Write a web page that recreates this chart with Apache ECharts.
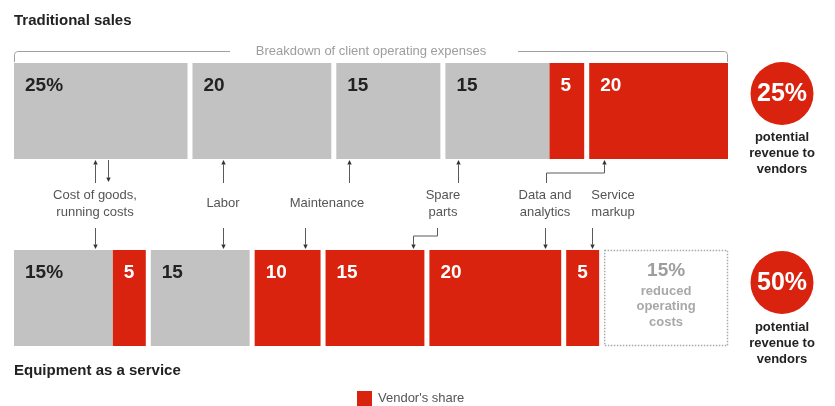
<!DOCTYPE html>
<html>
<head>
<meta charset="utf-8">
<script src="https://cdn.jsdelivr.net/npm/echarts@6/dist/echarts.min.js"></script>
<style>
  html, body { margin: 0; padding: 0; background: #fff; }
  #chart { width: 835px; height: 406px; }
</style>
</head>
<body>
<div id="chart"></div>
<script>
// Breakdown of client operating expenses, percent of total
const traditionalValues = [25, 20, 15, 15, 5, 20];
const traditionalVendor = [false, false, false, false, true, true];
const traditionalGroups = [0, 1, 2, 3, 3, 4];   // same group = drawn flush, no gap

const serviceValues = [15, 5, 15, 10, 15, 20, 5];
const serviceVendor = [false, true, false, true, true, true, true];
const serviceGroups = [0, 0, 1, 2, 3, 4, 5];
const reducedValue = 15;

const traditionalPotential = '25%';
const servicePotential = '50%';

// Cost drivers and where their arrows meet each bar (position along the bar, in percent)
const drivers = ['Cost of goods,\nrunning costs', 'Labor', 'Maintenance', 'Spare\nparts', 'Data and\nanalytics', 'Service\nmarkup'];
const driverToTraditional = [11.7, 29.4, 46.8, 61.8, 82.1, null];
const traditionalToDriver = [13.5, null, null, null, null, null];
const driverToService = [12.3, 31.0, 42.6, 58.3, 77.5, 83.9];

// ---- layout & style ----
const FONT = '"Liberation Sans", Arial, Helvetica, sans-serif';
const RED = '#d9230e';
const GREY = '#c2c2c2';
const INK = '#222222';
const MUTED = '#555555';
const FAINT = '#9d9d9d';
const LINE = '#5a5a5a';
const HEAD = '#333333';
const GAP = 5;
const BAR_LEFT = 14;
const TOP_SPAN = 694;
const BOTTOM_SPAN = 659;
const BAR_HEIGHT = 96;
const TOP_BAR_Y = 63;
const BOTTOM_BAR_Y = 250;
const ROW_RIGHT = BAR_LEFT + TOP_SPAN + GAP * Math.max(...traditionalGroups);

const LABEL_X = [95, 223, 327, 443, 545, 613];
const LABEL_Y = 203.5;
const TOP_STEM_X = { 4: 546 };
const BOTTOM_STEM_X = { 3: 437 };

function buildSegments(values, groups, vendor) {
  let acc = 0;
  return values.map((v, i) => {
    const s = acc; acc += v;
    return { start: s, end: acc, value: v, group: groups[i], vendor: vendor[i], first: i === 0 };
  });
}
const topSegs = buildSegments(traditionalValues, traditionalGroups, traditionalVendor);
const botSegs = buildSegments(serviceValues, serviceGroups, serviceVendor);
const serviceTotal = serviceValues.reduce((a, b) => a + b, 0);
botSegs.push({ start: serviceTotal, end: serviceTotal + reducedValue, value: reducedValue,
  group: serviceGroups[serviceGroups.length - 1] + 1, reduced: true });

function renderRow(segs) {
  return function (params, api) {
    const seg = segs[params.dataIndex];
    const off = seg.group * GAP;
    const a = api.coord([api.value(0), 1]);
    const b = api.coord([api.value(1), 0]);
    const x0 = a[0] + off, y0 = a[1], y1 = b[1];
    let x1 = b[0] + off;
    if (seg.reduced) {
      x1 = ROW_RIGHT;
      const cx = (x0 + x1) / 2;
      return {
        type: 'group',
        children: [
          { type: 'rect', shape: { x: x0 + 0.5, y: y0 + 0.5, width: x1 - x0 - 1, height: y1 - y0 - 1 },
            style: { fill: '#fff', stroke: '#a8a8a8', lineWidth: 1.5, lineDash: [1.5, 1.5] } },
          { type: 'text', x: cx, y: y0 + 21,
            style: { text: api.value(2) + '%', fill: FAINT, fontSize: 19, fontWeight: 'bold', fontFamily: FONT,
              align: 'center', verticalAlign: 'middle' } },
          { type: 'text', x: cx, y: y0 + 56.5,
            style: { text: 'reduced\noperating\ncosts', fill: '#a8a8a8', fontSize: 13, fontWeight: 'bold',
              fontFamily: FONT, lineHeight: 15.5, align: 'center', verticalAlign: 'middle' } }
        ]
      };
    }
    return {
      type: 'group',
      children: [
        { type: 'rect', shape: { x: x0, y: y0, width: x1 - x0, height: y1 - y0 },
          style: { fill: seg.vendor ? RED : GREY } },
        { type: 'text', x: x0 + 11, y: y0 + 22.5,
          style: { text: api.value(2) + (seg.first ? '%' : ''), fill: seg.vendor ? '#fff' : INK,
            fontSize: 19, fontWeight: 'bold', fontFamily: FONT, align: 'left', verticalAlign: 'middle' } }
      ]
    };
  };
}

const chart = echarts.init(document.getElementById('chart'));
chart.setOption({
  animation: false,
  textStyle: { fontFamily: FONT },
  grid: [
    { left: BAR_LEFT, top: TOP_BAR_Y, width: TOP_SPAN, height: BAR_HEIGHT },
    { left: BAR_LEFT, top: BOTTOM_BAR_Y, width: BOTTOM_SPAN, height: BAR_HEIGHT }
  ],
  xAxis: [0, 1].map(i => ({ gridIndex: i, type: 'value', min: 0, max: 100, show: false })),
  yAxis: [0, 1].map(i => ({ gridIndex: i, type: 'value', min: 0, max: 1, show: false })),
  legend: {
    left: 357, top: 391, padding: 0, itemWidth: 15, itemHeight: 15, itemGap: 0,
    selectedMode: false, icon: 'rect',
    textStyle: { fontSize: 13, color: MUTED, fontFamily: FONT, padding: [0, 0, 0, 1] },
    data: ["Vendor's share"]
  },
  series: [
    { type: 'custom', name: "Vendor's share", xAxisIndex: 0, yAxisIndex: 0, clip: false,
      itemStyle: { color: RED }, renderItem: renderRow(topSegs),
      data: topSegs.map(s => [s.start, s.end, s.value]) },
    { type: 'custom', name: "Vendor's share", xAxisIndex: 1, yAxisIndex: 1, clip: false,
      itemStyle: { color: RED }, renderItem: renderRow(botSegs),
      data: botSegs.map(s => [s.start, s.end, s.value]) }
  ]
});

// ---- annotations placed through the axes ----
function barX(gridIndex, segs, u) {
  const seg = segs.find(s => u >= s.start && u <= s.end);
  return chart.convertToPixel({ gridIndex }, [u, 0])[0] + seg.group * GAP;
}
const topBarBottom = chart.convertToPixel({ gridIndex: 0 }, [0, 0])[1];
const botBarTop = chart.convertToPixel({ gridIndex: 1 }, [0, 1])[1];
const topRowLeft = barX(0, topSegs, 0);
const topRowRight = barX(0, topSegs, 100);

function arrow(pts) {
  const n = pts.length;
  const [tx, ty] = pts[n - 1], [px, py] = pts[n - 2];
  const dx = Math.sign(tx - px), dy = Math.sign(ty - py);
  const L = 4.5, W = 2.2;
  const bx = tx - dx * L, by = ty - dy * L;
  return [
    { type: 'polyline', silent: true,
      shape: { points: pts.slice(0, -1).concat([[bx, by]]) },
      style: { stroke: LINE, lineWidth: 1, fill: null } },
    { type: 'polygon', silent: true,
      shape: { points: [[tx, ty], [bx - dy * W, by + dx * W], [bx + dy * W, by - dx * W]] },
      style: { fill: HEAD } }
  ];
}

const graphics = [];
const text = (x, y, t, opts) => graphics.push({ type: 'text', x, y, silent: true,
  style: Object.assign({ text: t, fontFamily: FONT }, opts) });

text(14, 21, 'Traditional sales', { fontSize: 15, fontWeight: 'bold', fill: INK, verticalAlign: 'middle' });
text(14, 371, 'Equipment as a service', { fontSize: 15, fontWeight: 'bold', fill: INK, verticalAlign: 'middle' });

// bracket over the traditional bar
const bY = 51.5, bMid = (topRowLeft + topRowRight) / 2;
const bL = topRowLeft + 0.5, bR = topRowRight - 0.5;
graphics.push({ type: 'polyline', silent: true,
  shape: { points: [[bL, TOP_BAR_Y - 1], [bL, bY + 3], [bL + 0.9, bY + 0.9], [bL + 3, bY], [bMid - 141, bY]] },
  style: { stroke: '#a0a0a0', lineWidth: 1, fill: null } });
graphics.push({ type: 'polyline', silent: true,
  shape: { points: [[bMid + 147, bY], [bR - 3, bY], [bR - 0.9, bY + 0.9], [bR, bY + 3], [bR, TOP_BAR_Y - 1]] },
  style: { stroke: '#a0a0a0', lineWidth: 1, fill: null } });
text(bMid, bY - 0.5, 'Breakdown of client operating expenses',
  { fontSize: 13, fill: FAINT, align: 'center', verticalAlign: 'middle' });

// driver labels and arrows
const topNear = topBarBottom + 1, topFar = topBarBottom + 24, topElbow = topBarBottom + 14;
const botNear = botBarTop - 1, botFar = botBarTop - 22, botElbow = botBarTop - 14;
drivers.forEach((name, i) => {
  text(LABEL_X[i], LABEL_Y, name, { fontSize: 13, fill: MUTED, lineHeight: 17,
    align: 'center', verticalAlign: 'middle' });
  if (driverToTraditional[i] != null) {
    const x = Math.round(barX(0, topSegs, driverToTraditional[i])) + 0.5;
    if (TOP_STEM_X[i] != null) {
      const sx = TOP_STEM_X[i] + 0.5;
      graphics.push(...arrow([[sx, topFar], [sx, topElbow], [x, topElbow], [x, topNear]]));
    } else {
      graphics.push(...arrow([[x, topFar], [x, topNear]]));
    }
  }
  if (traditionalToDriver[i] != null) {
    const x = Math.round(barX(0, topSegs, traditionalToDriver[i])) + 0.5;
    graphics.push(...arrow([[x, topNear], [x, topFar - 1]]));
  }
  if (driverToService[i] != null) {
    const x = Math.round(barX(1, botSegs, driverToService[i])) + 0.5;
    if (BOTTOM_STEM_X[i] != null) {
      const sx = BOTTOM_STEM_X[i] + 0.5;
      graphics.push(...arrow([[sx, botFar], [sx, botElbow], [x, botElbow], [x, botNear]]));
    } else {
      graphics.push(...arrow([[x, botFar], [x, botNear]]));
    }
  }
});

// potential revenue callouts
const CIRCLE_X = 782, CIRCLE_R = 31.5;
[[TOP_BAR_Y, traditionalPotential, 129.5], [BOTTOM_BAR_Y + 2, servicePotential, 319]].forEach(([top, label, noteY]) => {
  const cy = top - 1 + CIRCLE_R;
  graphics.push({ type: 'circle', silent: true, shape: { cx: CIRCLE_X, cy, r: CIRCLE_R }, style: { fill: RED } });
  text(CIRCLE_X, cy + 1, label, { fontSize: 25, fontWeight: 'bold', fill: '#fff', align: 'center', verticalAlign: 'middle' });
  text(CIRCLE_X, noteY, 'potential\nrevenue to\nvendors',
    { fontSize: 13, fontWeight: 'bold', fill: INK, lineHeight: 16, align: 'center', verticalAlign: 'top' });
});

chart.setOption({ graphic: graphics });
</script>
</body>
</html>
